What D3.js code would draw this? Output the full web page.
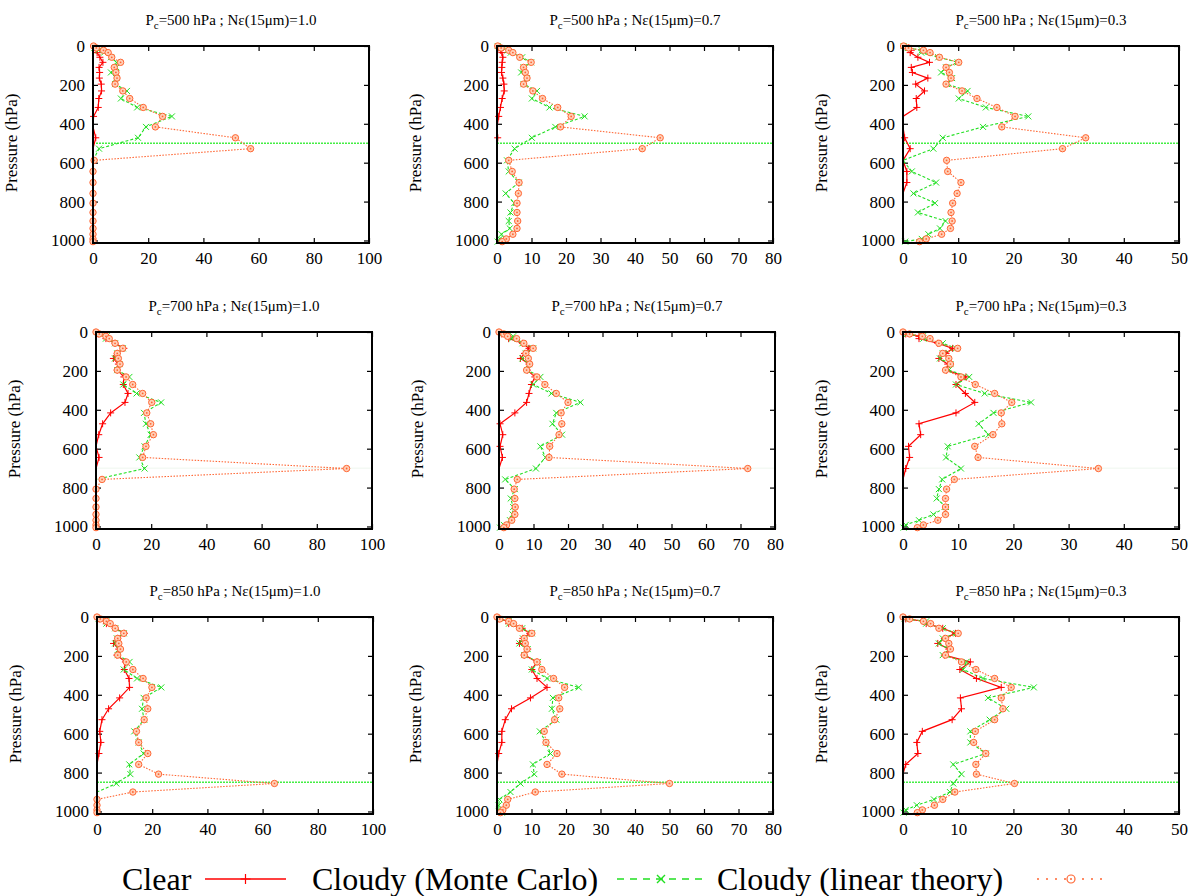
<!DOCTYPE html>
<html>
<head>
<meta charset="utf-8">
<script src="https://cdn.jsdelivr.net/npm/d3@7"></script>
<style>
  body { margin: 0; background: #fff; }
  svg, svg text { font-family: "Liberation Serif", "DejaVu Serif", serif; }
</style>
</head>
<body>
<div id="chart"></div>
<script>
let width = 1200,
    height = 896;

// pressure levels (hPa) shared by every profile
const levels = [0, 10, 22, 34, 58, 84, 110, 136, 165, 196, 231, 270, 316, 362, 416, 472, 528, 588, 645, 702, 758, 808, 856, 900, 938, 968, 992, 1006];

const cloudTops = [500, 700, 850];
const emissivities = ["1.0", "0.7", "0.3"];
const xMax = [100, 80, 50];
const yTicks = [0, 200, 400, 600, 800, 1000];

// Pc = 500 hPa
const clear500_10 = [0, 0.8, 1.2, 1.5, 2.5, 3.6, 2.2, 2.4, 2.3, 3.0, 3.1, 2.1, 1.9, 0.2, 0, 1.0, 0, 0, 0, 0, 0, 0, 0, 0, 0, 0, 0, 0];
const mc500_10    = [0, 0.5, 2, 4, 6.5, 8.5, 8.5, 6.5, 8.5, 8, 12.3, 10.1, 16, 28.6, 19.2, 16.3, 2.2, 0, 0, 0, 0, 0, 0, 0, 0, 0, 0, 0];
const lin500_10   = [0.2, 1.2, 3.8, 5.5, 6.8, 10, 7.7, 8.3, 8.7, 8, 10.8, 13.3, 18.2, 25.2, 22.6, 51.6, 57.1, 0.4, 0, 0, 0, 0, 0, 0, 0, 0, 0, 0];

const clear500_07 = [0, 0.5, 1.0, 1.4, 1.7, 1.5, 1.4, 1.3, 1.7, 2.0, 2.1, 1.5, 1.0, 0.5, 0, 0.2, 0, 0, 0, 0, 0, 0, 0, 0, 0, 0, 0, 0];
const mc500_07    = [0.2, 1, 3.1, 4, 7.3, 9.9, 7.7, 7, 8.7, 7.7, 11.6, 10.1, 15.2, 25.4, 16.9, 10.1, 5.1, 2.9, 3.4, 6.3, 2.5, 5, 3.9, 3.4, 3.7, 1.3, 0.8, 0.2];
const lin500_07   = [0.2, 1.2, 3.4, 4.6, 6.6, 9.9, 7.7, 8.2, 8.7, 7.7, 10.4, 13.2, 17.6, 21.5, 18.4, 47.3, 42.1, 3.4, 4.4, 6.4, 6.2, 5.8, 5.8, 6.0, 5.8, 4.6, 2.7, 1.5];

const clear500_03 = [0, 1.0, 1.5, 1.3, 2.7, 4.8, 1.5, 1.7, 4.5, 2.3, 3.9, 2.4, 2.5, 0, 0, 0.3, 1.3, 0, 0.7, 0.7, 0, 0, 0, 0, 0, 0, 0, 0];
const mc500_03    = [0.1, 0.9, 3.4, 3.3, 6.4, 9.9, 7.8, 6.9, 8.9, 8.0, 11.7, 10.1, 15, 22.7, 14.5, 7.2, 5.5, 0, 1.6, 6.0, 1.9, 5.8, 2.7, 7.7, 6.7, 4.6, 3.4, 0.4];
const lin500_03   = [0.1, 1.0, 3.7, 4.9, 6.6, 10.1, 7.8, 8.4, 8.7, 7.8, 10.7, 13.4, 17, 20.3, 17.9, 33.1, 28.9, 7.9, 8.1, 10.5, 9.8, 9.0, 8.7, 8.9, 8.6, 7.0, 4.2, 3.0];

// Pc = 700 hPa
const clear700_10 = [0, 0.8, 3.6, 3.6, 6.9, 10.1, 7.7, 6.3, 8.1, 7.7, 10.1, 9.9, 11.6, 10.5, 5.3, 2.4, 1.0, 0, 1.1, 0, 0, 0, 0, 0, 0, 0, 0, 0];
const mc700_10    = [0, 1.4, 3.9, 3.6, 6.9, 9.7, 7.7, 6.9, 8.5, 7.7, 12.1, 9.9, 14.7, 23.6, 17.4, 18.1, 19.8, 17.6, 15.7, 17.6, 0, 0, 0, 0, 0, 0, 0, 0];
const lin700_10   = [0, 1.2, 3.6, 4.8, 6.9, 9.7, 7.7, 8.1, 8.7, 7.7, 10.9, 13.3, 16.9, 20.2, 18.4, 19.8, 20.8, 18.1, 16.9, 90.8, 2.2, 0, 0, 0, 0, 0, 0, 0];

const clear700_07 = [0, 0.8, 2.7, 2.8, 6.8, 8.7, 7.4, 6.2, 8.7, 8.2, 10.4, 9.4, 8.7, 8, 4.6, 0.3, 1.1, 0.3, 1.0, 0, 0, 0, 0, 0, 0, 0, 0, 0];
const mc700_07    = [0, 0.8, 4.1, 3.7, 6.8, 9.9, 7.8, 6.8, 8.7, 8.2, 12, 9.9, 15.2, 23.6, 16.6, 15.5, 18.3, 12, 13.5, 10.7, 1.8, 4.6, 3.4, 4.1, 3.9, 3.2, 1.4, 0.3];
const lin700_07   = [0, 1.4, 2.5, 5.1, 7.2, 9.9, 7.8, 8.5, 8.9, 8.0, 11, 13.3, 16.6, 20, 18, 18.2, 17.4, 14.7, 14.5, 72.1, 5.3, 4.4, 4.6, 4.7, 4.6, 3.7, 2.2, 1.4];

const clear700_03 = [0, 0.5, 2.9, 2.9, 6.3, 9, 7.8, 6.5, 8.1, 7.9, 11.4, 9.6, 11.3, 13, 9.6, 2.9, 3.2, 1.0, 1.2, 0.5, 0, 0, 0, 0, 0, 0, 0, 0];
const mc700_03    = [0, 0.7, 3.6, 3.7, 7.2, 9.6, 7.2, 6.7, 8.6, 8.3, 12, 9.6, 14.8, 23.2, 16.4, 13.7, 15.5, 8.1, 7.8, 10.5, 7.1, 6.5, 6.1, 7.8, 5.5, 2.9, 0.5, 0.1];
const lin700_03   = [0, 1.2, 3.5, 4.9, 6.5, 9.9, 7.2, 8.3, 8.6, 7.7, 10.5, 13.1, 16.6, 19.7, 17.8, 17.9, 16.3, 13, 13.6, 35.4, 9.3, 7.9, 7.7, 7.7, 7.7, 6.3, 3.7, 2.6];

// Pc = 850 hPa
const clear850_10 = [0, 0.8, 3.4, 3.4, 6.6, 9.9, 7.5, 6.0, 7.9, 7.2, 10.3, 9.9, 11.6, 11.8, 8.2, 4.2, 1.8, 1.0, 1.4, 0.7, 0, 0, 0, 0, 0, 0, 0, 0];
const mc850_10    = [0, 0.6, 3.4, 3.4, 6.6, 9.7, 7.2, 6.6, 7.9, 7.5, 11.8, 9.7, 14.5, 23.3, 16.9, 16.3, 17.1, 13.5, 15.1, 16.9, 11.7, 12.1, 7, 0, 0, 0, 0, 0];
const lin850_10   = [0, 1.2, 3.4, 4.8, 6.6, 9.7, 7.5, 7.9, 8.5, 7.5, 10.6, 13, 16.7, 19.9, 17.8, 18.4, 17.1, 14.3, 15.1, 18.4, 15.1, 22.3, 64.3, 13, 0, 0, 0, 0];

const clear850_07 = [0, 0.6, 3.4, 3.4, 7.3, 9.5, 7.5, 6.5, 8.9, 7.9, 11.6, 10.1, 11.6, 14.5, 9.7, 4.2, 2.4, 1.4, 1.4, 0.5, 0, 0, 0, 0, 0, 0, 0, 0];
const mc850_07    = [0, 0.6, 3.4, 3.5, 7.3, 10.1, 7.5, 6.5, 8.9, 7.9, 11.9, 10.1, 14.5, 23.7, 16.2, 15.9, 17.2, 12.4, 14.2, 15.5, 10.4, 10.8, 6.8, 3.9, 0.7, 0.5, 0.6, 1.4];
const lin850_07   = [0, 0.8, 3.4, 4.8, 6.5, 10.1, 7.9, 8.2, 8.7, 7.9, 11.6, 13, 16.4, 19.6, 17.9, 18.2, 16.7, 13.7, 14.2, 17.4, 14.5, 18.8, 50, 11.1, 3.1, 2.7, 1.7, 1.0];

const clear850_03 = [0, 0.5, 3.7, 4.2, 7.2, 9.5, 7.5, 6.3, 8.3, 7.5, 12.2, 10.3, 13.3, 17.8, 10.4, 10.6, 8.9, 3.5, 2.5, 2.7, 0.5, 0, 0, 0, 0, 0, 0, 0];
const mc850_03    = [0, 0.3, 4.2, 4.2, 7.2, 9.7, 7.2, 6.5, 8.3, 7.2, 11.5, 10.9, 14.5, 23.7, 15.4, 18.7, 15.7, 12.2, 12.2, 15, 9.1, 10.6, 9.1, 8.5, 5.6, 2.5, 0.5, 0.1];
const lin850_03   = [0, 1.2, 3.7, 5, 6.5, 10, 7.7, 8.3, 8.6, 7.7, 10.6, 13.2, 16.6, 19.6, 17.8, 18.1, 16.6, 13.1, 12.8, 15, 13.2, 13.3, 20.2, 9.4, 7.2, 5.7, 3.5, 2.6];

const clearRows = [[clear500_10, clear500_07, clear500_03], [clear700_10, clear700_07, clear700_03], [clear850_10, clear850_07, clear850_03]];
const mcRows    = [[mc500_10, mc500_07, mc500_03], [mc700_10, mc700_07, mc700_03], [mc850_10, mc850_07, mc850_03]];
const linRows   = [[lin500_10, lin500_07, lin500_03], [lin700_10, lin700_07, lin700_03], [lin850_10, lin850_07, lin850_03]];

// layout
const rowTop = [46, 332, 617];
const colLeft = [[93, 497, 903], [96, 499, 903], [97, 497, 903]];
const panelW = 276, panelH = 197;
const serif = "Liberation Serif";

const red = "#ff0000", green = "#22e022", orange = "#ff6633";

const svg = d3.select("#chart")
  .append("svg")
  .attr("width", width)
  .attr("height", height)
  .attr("viewBox", [0, 0, width, height]);

const plusPath = "M-3.5,0H3.5M0,-3.5V3.5";
const crossPath = "M-3,-3L3,3M-3,3L3,-3";

rowTop.forEach((top, r) => {
  xMax.forEach((xm, c) => {
    const left = colLeft[r][c];
    let x = d3.scaleLinear().domain([0, xm]).range([left, left + panelW]);
    let y = d3.scaleLinear().domain([0, 1013]).range([top, top + panelH]);
    const g = svg.append("g");
    const step = xm === 100 ? 20 : 10;

    // title
    const t = g.append("text")
      .attr("x", left + panelW / 2)
      .attr("y", top - 21)
      .attr("text-anchor", "middle")
      .style("font-family", serif)
      .attr("font-size", 15);
    t.append("tspan").text("P");
    t.append("tspan").attr("font-size", 11).attr("dy", 4).text("c");
    t.append("tspan").attr("dy", -4).text(`=${cloudTops[r]} hPa ; Nε(15μm)=${emissivities[c]}`);

    // y label
    g.append("text")
      .attr("transform", `translate(${left - 76},${top + 97}) rotate(-90)`)
      .attr("text-anchor", "middle")
      .style("font-family", serif)
      .attr("font-size", 17)
      .text("Pressure (hPa)");

    // axes, ticks pointing inward
    g.append("g")
      .attr("transform", `translate(${left},0)`)
      .call(d3.axisLeft(y).tickValues(yTicks).tickFormat(d3.format("d")).tickSize(-5).tickPadding(8));
    g.append("g")
      .attr("transform", `translate(${left + panelW},0)`)
      .call(d3.axisRight(y).tickValues(yTicks).tickSize(-5).tickFormat(""));
    g.append("g")
      .attr("transform", `translate(0,${top + panelH})`)
      .call(d3.axisBottom(x).ticks(xm / step).tickFormat(d3.format("d")).tickSize(-5).tickPadding(9));
    g.append("g")
      .attr("transform", `translate(0,${top})`)
      .call(d3.axisTop(x).ticks(xm / step).tickSize(-5).tickFormat(""));
    g.selectAll(".domain").remove();
    g.selectAll(".tick line").attr("stroke", "#000").attr("stroke-width", 1.2);
    g.selectAll(".tick text")
      .style("font-family", serif)
      .style("font-size", "17px")
      .attr("fill", "#000");

    // cloud top
    g.append("line")
      .attr("x1", left).attr("x2", left + panelW)
      .attr("y1", y(cloudTops[r])).attr("y2", y(cloudTops[r]))
      .attr("stroke", r === 1 ? "#eef6ee" : "#44ee44")
      .attr("stroke-width", r === 1 ? 1 : 1.6)
      .attr("stroke-dasharray", r === 1 ? null : "2,1");

    const line = vals => d3.line()
      .x((d, i) => x(vals[i]))
      .y(d => y(d))(levels);

    const clr = clearRows[r][c], mc = mcRows[r][c], lin = linRows[r][c];

    g.append("path").attr("d", line(clr))
      .attr("fill", "none").attr("stroke", red).attr("stroke-width", 1.2);
    g.append("path").attr("d", line(mc))
      .attr("fill", "none").attr("stroke", green).attr("stroke-width", 1.1).attr("stroke-dasharray", "3,2");
    g.append("path").attr("d", line(lin))
      .attr("fill", "none").attr("stroke", orange).attr("stroke-width", 1.1).attr("stroke-dasharray", "1.5,1.5");

    // markers (zero values of the first two series sit under the axis)
    const idx = d3.range(levels.length);
    g.append("g").selectAll("path")
      .data(idx.filter(i => clr[i] > 0))
      .join("path")
      .attr("transform", i => `translate(${x(clr[i])},${y(levels[i])})`)
      .attr("d", plusPath).attr("stroke", red).attr("stroke-width", 1);
    g.append("g").selectAll("path")
      .data(idx.filter(i => mc[i] > 0))
      .join("path")
      .attr("transform", i => `translate(${x(mc[i])},${y(levels[i])})`)
      .attr("d", crossPath).attr("stroke", green).attr("stroke-width", 1);
    const circ = g.append("g").selectAll("g")
      .data(idx)
      .join("g")
      .attr("transform", i => `translate(${x(lin[i])},${y(levels[i])})`);
    circ.append("circle").attr("r", 3.2).attr("fill", "#ffd0b8").attr("stroke", orange).attr("stroke-width", 1);
    circ.append("circle").attr("r", 0.9).attr("fill", orange);

    // frame
    g.append("rect")
      .attr("x", left).attr("y", top)
      .attr("width", panelW).attr("height", panelH)
      .attr("fill", "none").attr("stroke", "#000").attr("stroke-width", 2);
  });
});

// legend
const legend = svg.append("g").style("font-family", serif).attr("font-size", 32);
const legendItems = [
  { label: "Clear", tx: 122, x1: 205, x2: 286, color: red, dash: null, mark: "plus" },
  { label: "Cloudy (Monte Carlo)", tx: 312, x1: 617, x2: 705, color: green, dash: "7,6", mark: "cross" },
  { label: "Cloudy (linear theory)", tx: 717, x1: 1037, x2: 1105, color: orange, dash: "2,7", mark: "circle" }
];
const ly = 879;
legendItems.forEach(it => {
  legend.append("text").attr("x", it.tx).attr("y", ly + 11).text(it.label);
  legend.append("line")
    .attr("x1", it.x1).attr("x2", it.x2).attr("y1", ly).attr("y2", ly)
    .attr("stroke", it.color).attr("stroke-width", 1.4).attr("stroke-dasharray", it.dash);
  const mx = (it.x1 + it.x2) / 2;
  if (it.mark === "plus") {
    legend.append("path").attr("transform", `translate(${mx},${ly})`).attr("d", "M-5,0H5M0,-5V5").attr("stroke", it.color).attr("stroke-width", 1.2);
  } else if (it.mark === "cross") {
    legend.append("path").attr("transform", `translate(${mx},${ly})`).attr("d", "M-4,-4L4,4M-4,4L4,-4").attr("stroke", it.color).attr("stroke-width", 1.4);
  } else {
    legend.append("circle").attr("cx", mx).attr("cy", ly).attr("r", 4).attr("fill", "#fff").attr("stroke", it.color).attr("stroke-width", 1.2);
    legend.append("circle").attr("cx", mx).attr("cy", ly).attr("r", 1).attr("fill", it.color);
  }
});
</script>
</body>
</html>
